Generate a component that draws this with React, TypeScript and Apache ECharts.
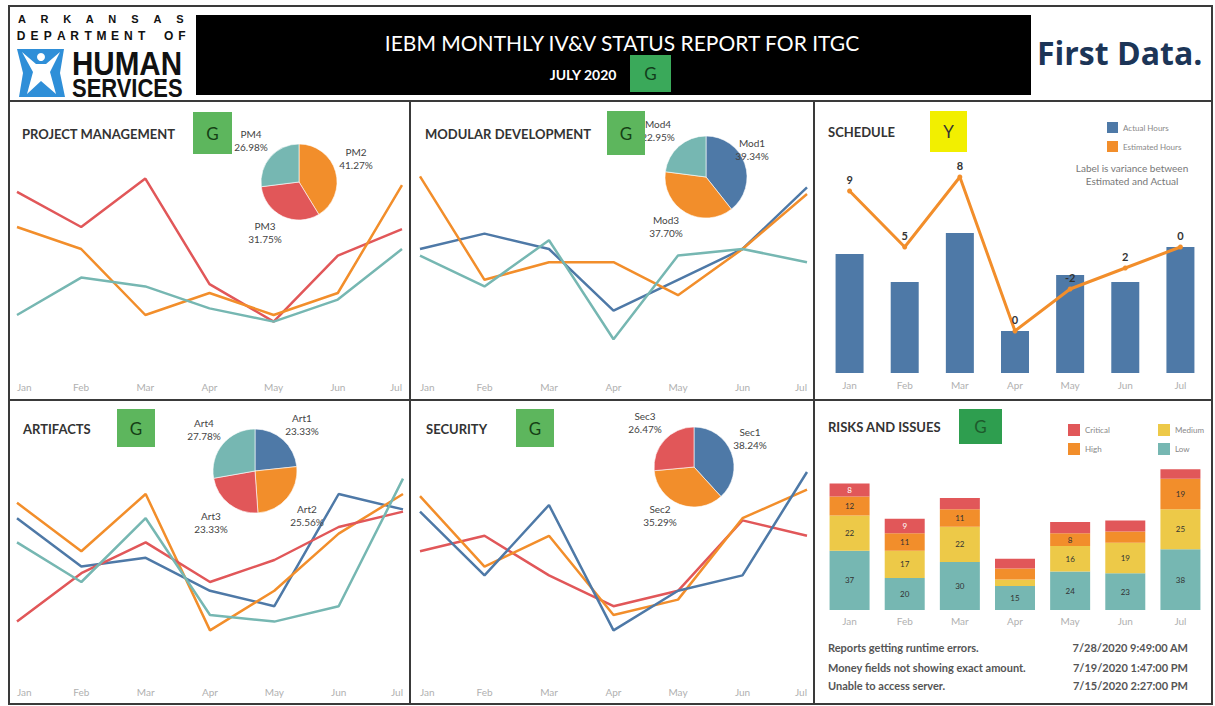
import React, { useEffect, useRef } from 'react';
import * as echarts from 'echarts';

const months = ['Jan', 'Feb', 'Mar', 'Apr', 'May', 'Jun', 'Jul'];

// Project management
const pmNames = ['PM2', 'PM3', 'PM4'];
const pmShare = [26, 20, 17];
const pmPM2 = [65, 55, 25, 35, 25, 35, 84];
const pmPM3 = [81, 65, 87, 39, 22, 52, 64];
const pmPM4 = [25, 42, 38, 28, 22, 32, 55];

// Modular development
const mdNames = ['Mod1', 'Mod3', 'Mod4'];
const mdShare = [24, 23, 14];
const mdMod1 = [55, 62, 55, 27, 41, 55, 83];
const mdMod3 = [88, 41, 49, 49, 34, 55, 80];
const mdMod4 = [52, 38, 59, 14, 52, 55, 49];

// Artifacts
const artNames = ['Art1', 'Art2', 'Art3', 'Art4'];
const artShare = [21, 23, 21, 25];
const artArt1 = [69, 47, 51, 36, 29, 80, 73];
const artArt2 = [76, 54, 80, 18, 36, 62, 80];
const artArt3 = [22, 44, 58, 40, 50, 65, 72];
const artArt4 = [58, 40, 69, 25, 22, 29, 87];

// Security
const secNames = ['Sec1', 'Sec2', 'Sec3'];
const secShare = [13, 12, 9];
const secSec1 = [72, 43, 75, 18, 36, 43, 90];
const secSec2 = [79, 47, 61, 25, 32, 69, 82];
const secSec3 = [54, 61, 43, 29, 36, 68, 61];

// Schedule
const actualHours = [17, 13, 20, 6, 14, 13, 18];
const estimatedHours = [26, 18, 28, 6, 12, 15, 18];

// Risks and issues
const riskLow = [37, 20, 30, 15, 24, 23, 38];
const riskMedium = [22, 17, 22, 4, 16, 19, 25];
const riskHigh = [12, 11, 11, 7, 8, 7, 19];
const riskCritical = [8, 9, 7, 6, 7, 7, 6];

const issueTexts = [
  'Reports getting runtime errors.',
  'Money fields not showing exact amount.',
  'Unable to access server.',
];
const issueDates = ['7/28/2020 9:49:00 AM', '7/19/2020 1:47:00 PM', '7/15/2020 2:27:00 PM'];

const C = {
  blue: '#4e79a7',
  orange: '#f28e2b',
  red: '#e15759',
  teal: '#76b7b2',
  yellow: '#edc948',
};
const FONT = 'Lato, "Open Sans", sans-serif';

function txt(x: number, y: number, text: string, o: any = {}) {
  return {
    type: 'text',
    x,
    y,
    silent: true,
    z: 20,
    scaleX: o.scaleX ?? 1,
    style: {
      text,
      fill: o.fill ?? '#333',
      fontSize: o.fontSize ?? 12,
      fontWeight: o.fontWeight ?? 'normal',
      fontFamily: o.fontFamily ?? FONT,
      align: o.align ?? 'left',
      verticalAlign: o.verticalAlign ?? 'middle',
    },
  };
}

function box(x: number, y: number, w: number, h: number, fill: string, label: string, color: string) {
  return [
    { type: 'rect', silent: true, z: 15, shape: { x, y, width: w, height: h }, style: { fill } },
    txt(x + w / 2, y + h / 2, label, { align: 'center', fontSize: 17, fill: color }),
  ];
}

function spread(text: string, x0: number, x1: number, y: number, fontSize: number) {
  const chars = text.split('');
  const step = (x1 - x0) / (chars.length - 1);
  return chars
    .map((ch, i) => (ch === ' ' ? null : txt(x0 + i * step, y, ch, { align: 'center', fontSize, fontWeight: 'bold', fill: '#111', fontFamily: '"Liberation Sans", Arial, sans-serif' })))
    .filter(Boolean);
}

function lineSeries(name: string, data: number[], color: string, gi: number) {
  return {
    type: 'line',
    name,
    data,
    xAxisIndex: gi,
    yAxisIndex: gi,
    symbol: 'none',
    lineStyle: { width: 2.5, color },
    itemStyle: { color },
    silent: true,
  };
}

function pieSeries(names: string[], values: number[], colors: string[], center: number[], radius: number, pos: number[][]) {
  const total = values.reduce((a, b) => a + b, 0);
  return {
    type: 'pie',
    center,
    radius,
    startAngle: 90,
    clockwise: true,
    silent: true,
    z: 5,
    data: names.map((n, i) => ({ name: n, value: values[i], itemStyle: { color: colors[i] } })),
    itemStyle: { borderColor: '#ffffff', borderWidth: 0.6 },
    label: {
      show: true,
      formatter: (p: any) => `${p.name}\n${((values[p.dataIndex] / total) * 100).toFixed(2)}%`,
      color: '#444',
      fontSize: 10,
      lineHeight: 13,
      fontFamily: FONT,
      align: 'center',
    },
    labelLine: { show: false },
    labelLayout: (p: any) => ({ x: pos[p.dataIndex][0], y: pos[p.dataIndex][1], align: 'center', verticalAlign: 'middle' }),
  };
}

function buildOption() {
  const grids = [
    { left: 17, top: 150, width: 385, height: 220 },
    { left: 420, top: 150, width: 387, height: 220 },
    { left: 822, top: 163, width: 386, height: 210 },
    { left: 17, top: 450, width: 386, height: 220 },
    { left: 420, top: 450, width: 387, height: 220 },
    { left: 822, top: 450, width: 386, height: 160 },
  ];
  const margins = [12, 12, 7, 17, 17, 6];
  const gaps = [false, false, true, false, false, true];
  const ymax = [100, 100, 30, 100, 100, 100];

  const xAxis = grids.map((_, i) => ({
    type: 'category',
    gridIndex: i,
    data: months,
    boundaryGap: gaps[i],
    axisLine: { show: false },
    axisTick: { show: false },
    splitLine: { show: false },
    axisLabel: {
      color: '#b0b0b0',
      fontSize: 10,
      fontFamily: FONT,
      margin: margins[i],
      interval: 0,
      ...(gaps[i] ? {} : { alignMinLabel: 'left', alignMaxLabel: 'right' }),
    },
  }));
  const yAxis = grids.map((_, i) => ({ type: 'value', gridIndex: i, min: 0, max: ymax[i], show: false, splitLine: { show: false } }));

  const series: any[] = [
    lineSeries('PM3', pmPM3, C.red, 0),
    lineSeries('PM2', pmPM2, C.orange, 0),
    lineSeries('PM4', pmPM4, C.teal, 0),
    lineSeries('Mod1', mdMod1, C.blue, 1),
    lineSeries('Mod3', mdMod3, C.orange, 1),
    lineSeries('Mod4', mdMod4, C.teal, 1),
    lineSeries('Art1', artArt1, C.blue, 3),
    lineSeries('Art2', artArt2, C.orange, 3),
    lineSeries('Art3', artArt3, C.red, 3),
    lineSeries('Art4', artArt4, C.teal, 3),
    lineSeries('Sec3', secSec3, C.red, 4),
    lineSeries('Sec2', secSec2, C.orange, 4),
    lineSeries('Sec1', secSec1, C.blue, 4),
    {
      type: 'bar',
      name: 'Actual Hours',
      data: actualHours,
      xAxisIndex: 2,
      yAxisIndex: 2,
      barWidth: 28,
      itemStyle: { color: C.blue },
      silent: true,
    },
    {
      type: 'line',
      name: 'Estimated Hours',
      data: estimatedHours,
      xAxisIndex: 2,
      yAxisIndex: 2,
      symbol: 'circle',
      symbolSize: 5,
      lineStyle: { width: 3, color: C.orange },
      itemStyle: { color: C.orange },
      silent: true,
      label: {
        show: true,
        position: 'top',
        distance: 4,
        color: '#333',
        fontWeight: 'bold',
        fontSize: 11,
        fontFamily: FONT,
        formatter: (p: any) => String(estimatedHours[p.dataIndex] - actualHours[p.dataIndex]),
      },
    },
  ];

  const riskDefs: [string, number[], string, string][] = [
    ['Low', riskLow, C.teal, '#333'],
    ['Medium', riskMedium, C.yellow, '#333'],
    ['High', riskHigh, C.orange, '#333'],
    ['Critical', riskCritical, C.red, '#fff'],
  ];
  riskDefs.forEach(([name, data, color, lc]) => {
    series.push({
      type: 'bar',
      name,
      data,
      stack: 'risk',
      xAxisIndex: 5,
      yAxisIndex: 5,
      barWidth: 40,
      itemStyle: { color },
      silent: true,
      label: {
        show: true,
        position: 'inside',
        color: lc,
        fontSize: 8,
        fontFamily: FONT,
        formatter: (p: any) => (p.value >= 8 ? String(p.value) : ''),
      },
    });
  });

  series.push(pieSeries(pmNames, pmShare, [C.orange, C.red, C.teal], [299, 182], 38, [[356, 158], [265, 232], [251, 140]]));
  series.push(pieSeries(mdNames, mdShare, [C.blue, C.orange, C.teal], [706, 177], 41, [[752, 149], [666, 226], [658, 130]]));
  series.push(pieSeries(artNames, artShare, [C.blue, C.orange, C.red, C.teal], [255, 471], 42, [[302, 424], [307, 515], [211, 522], [204, 429]]));
  series.push(pieSeries(secNames, secShare, [C.blue, C.orange, C.red], [694, 467], 40, [[750, 438], [660, 515], [645, 422]]));

  const border = '#3a3a3a';
  const graphic: any[] = [
    // outer frame and panel separators
    { type: 'rect', silent: true, z: 30, shape: { x: 9, y: 6, width: 1203, height: 698 }, style: { fill: 'none', stroke: border, lineWidth: 2 } },
    { type: 'line', silent: true, z: 30, shape: { x1: 9, y1: 101, x2: 1212, y2: 101 }, style: { stroke: border, lineWidth: 2 } },
    { type: 'line', silent: true, z: 30, shape: { x1: 9, y1: 400, x2: 1212, y2: 400 }, style: { stroke: border, lineWidth: 2 } },
    { type: 'line', silent: true, z: 30, shape: { x1: 410, y1: 101, x2: 410, y2: 704 }, style: { stroke: border, lineWidth: 2 } },
    { type: 'line', silent: true, z: 30, shape: { x1: 814, y1: 101, x2: 814, y2: 704 }, style: { stroke: border, lineWidth: 2 } },
    // header black band
    { type: 'rect', silent: true, z: 10, shape: { x: 196, y: 15, width: 835, height: 80 }, style: { fill: '#000' } },
    txt(622, 42, 'IEBM MONTHLY IV&V STATUS REPORT FOR ITGC', { align: 'center', fontSize: 21, fill: '#fff' }),
    txt(583, 74, 'JULY 2020', { align: 'center', fontSize: 14, fontWeight: 'bold', fill: '#fff' }),
    ...box(630, 55, 41, 37, '#3aa95a', 'G', '#123d1c'),
    // logo
    ...spread('ARKANSAS', 22, 180, 19, 11),
    ...spread('DEPARTMENT OF', 21, 182, 36, 12),
    { type: 'polygon', silent: true, z: 12, shape: { points: [[17, 49], [64, 49], [60, 73], [65, 97], [19, 97], [23, 73]] }, style: { fill: '#2f8fd8' } },
    { type: 'polygon', silent: true, z: 13, shape: { points: [[22, 52], [36, 64], [46, 64], [60, 52], [50, 72], [56, 94], [41, 81], [27, 94], [33, 72]] }, style: { fill: '#fff' } },
    { type: 'circle', silent: true, z: 13, shape: { cx: 41, cy: 57, r: 4 }, style: { fill: '#fff' } },
    txt(72, 63, 'HUMAN', { fontSize: 34, fontWeight: 'bold', fill: '#111', scaleX: 0.87, fontFamily: '"Liberation Sans", Arial, sans-serif' }),
    txt(72, 88, 'SERVICES', { fontSize: 26, fontWeight: 'bold', fill: '#111', scaleX: 0.845, fontFamily: '"Liberation Sans", Arial, sans-serif' }),
    txt(1037, 52, 'First Data.', { fontSize: 32, fontWeight: 'bold', fill: '#1c3557', fontFamily: '"Open Sans", sans-serif' }),
    // panel titles
    txt(22, 134, 'PROJECT MANAGEMENT', { fontSize: 13, fontWeight: 'bold' }),
    ...box(193, 112, 39, 42, '#5db65d', 'G', '#153f15'),
    txt(425, 134, 'MODULAR DEVELOPMENT', { fontSize: 13, fontWeight: 'bold' }),
    ...box(607, 111, 38, 44, '#5db65d', 'G', '#153f15'),
    txt(828, 132, 'SCHEDULE', { fontSize: 13, fontWeight: 'bold' }),
    ...box(930, 111, 37, 41, '#f2ef00', 'Y', '#333'),
    txt(1132, 168, 'Label is variance between', { align: 'center', fontSize: 10, fill: '#777' }),
    txt(1132, 181, 'Estimated and Actual', { align: 'center', fontSize: 10, fill: '#777' }),
    txt(23, 429, 'ARTIFACTS', { fontSize: 13, fontWeight: 'bold' }),
    ...box(117, 409, 38, 38, '#5db65d', 'G', '#153f15'),
    txt(426, 429, 'SECURITY', { fontSize: 13, fontWeight: 'bold' }),
    ...box(516, 409, 38, 38, '#5db65d', 'G', '#153f15'),
    txt(828, 427, 'RISKS AND ISSUES', { fontSize: 13, fontWeight: 'bold' }),
    ...box(959, 409, 43, 35, '#2e9e4f', 'G', '#1d5a2c'),
  ];
  issueTexts.forEach((t, i) => {
    const y = [647, 667, 685][i];
    graphic.push(txt(828, y, t, { fontSize: 11, fontWeight: 'bold', fill: '#555' }));
    graphic.push(txt(1188, y, issueDates[i], { fontSize: 11, fontWeight: 'bold', fill: '#555', align: 'right' }));
  });

  return {
    animation: false,
    backgroundColor: '#ffffff',
    textStyle: { fontFamily: FONT },
    grid: grids,
    xAxis,
    yAxis,
    legend: [
      {
        data: ['Actual Hours', 'Estimated Hours'],
        orient: 'vertical',
        left: 1102,
        top: 117,
        itemWidth: 11,
        itemHeight: 11,
        itemGap: 8,
        icon: 'rect',
        selectedMode: false,
        textStyle: { fontSize: 8, color: '#888', fontFamily: FONT },
      },
      {
        data: ['Critical', 'High'],
        orient: 'vertical',
        left: 1063,
        top: 419,
        itemWidth: 12,
        itemHeight: 12,
        itemGap: 7,
        icon: 'rect',
        selectedMode: false,
        textStyle: { fontSize: 8, color: '#888', fontFamily: FONT },
      },
      {
        data: ['Medium', 'Low'],
        orient: 'vertical',
        left: 1153,
        top: 419,
        itemWidth: 12,
        itemHeight: 12,
        itemGap: 7,
        icon: 'rect',
        selectedMode: false,
        textStyle: { fontSize: 8, color: '#888', fontFamily: FONT },
      },
    ],
    series,
    graphic,
  };
}

export default function App() {
  const ref = useRef<HTMLDivElement>(null);
  useEffect(() => {
    const chart = echarts.init(ref.current as HTMLDivElement, null, { renderer: 'svg' });
    chart.setOption(buildOption() as any);
    return () => chart.dispose();
  }, []);
  return (
    <div
      ref={ref}
      style={{ position: 'absolute', left: 0, top: 0, width: 1215, height: 706, background: '#fff' }}
    />
  );
}
